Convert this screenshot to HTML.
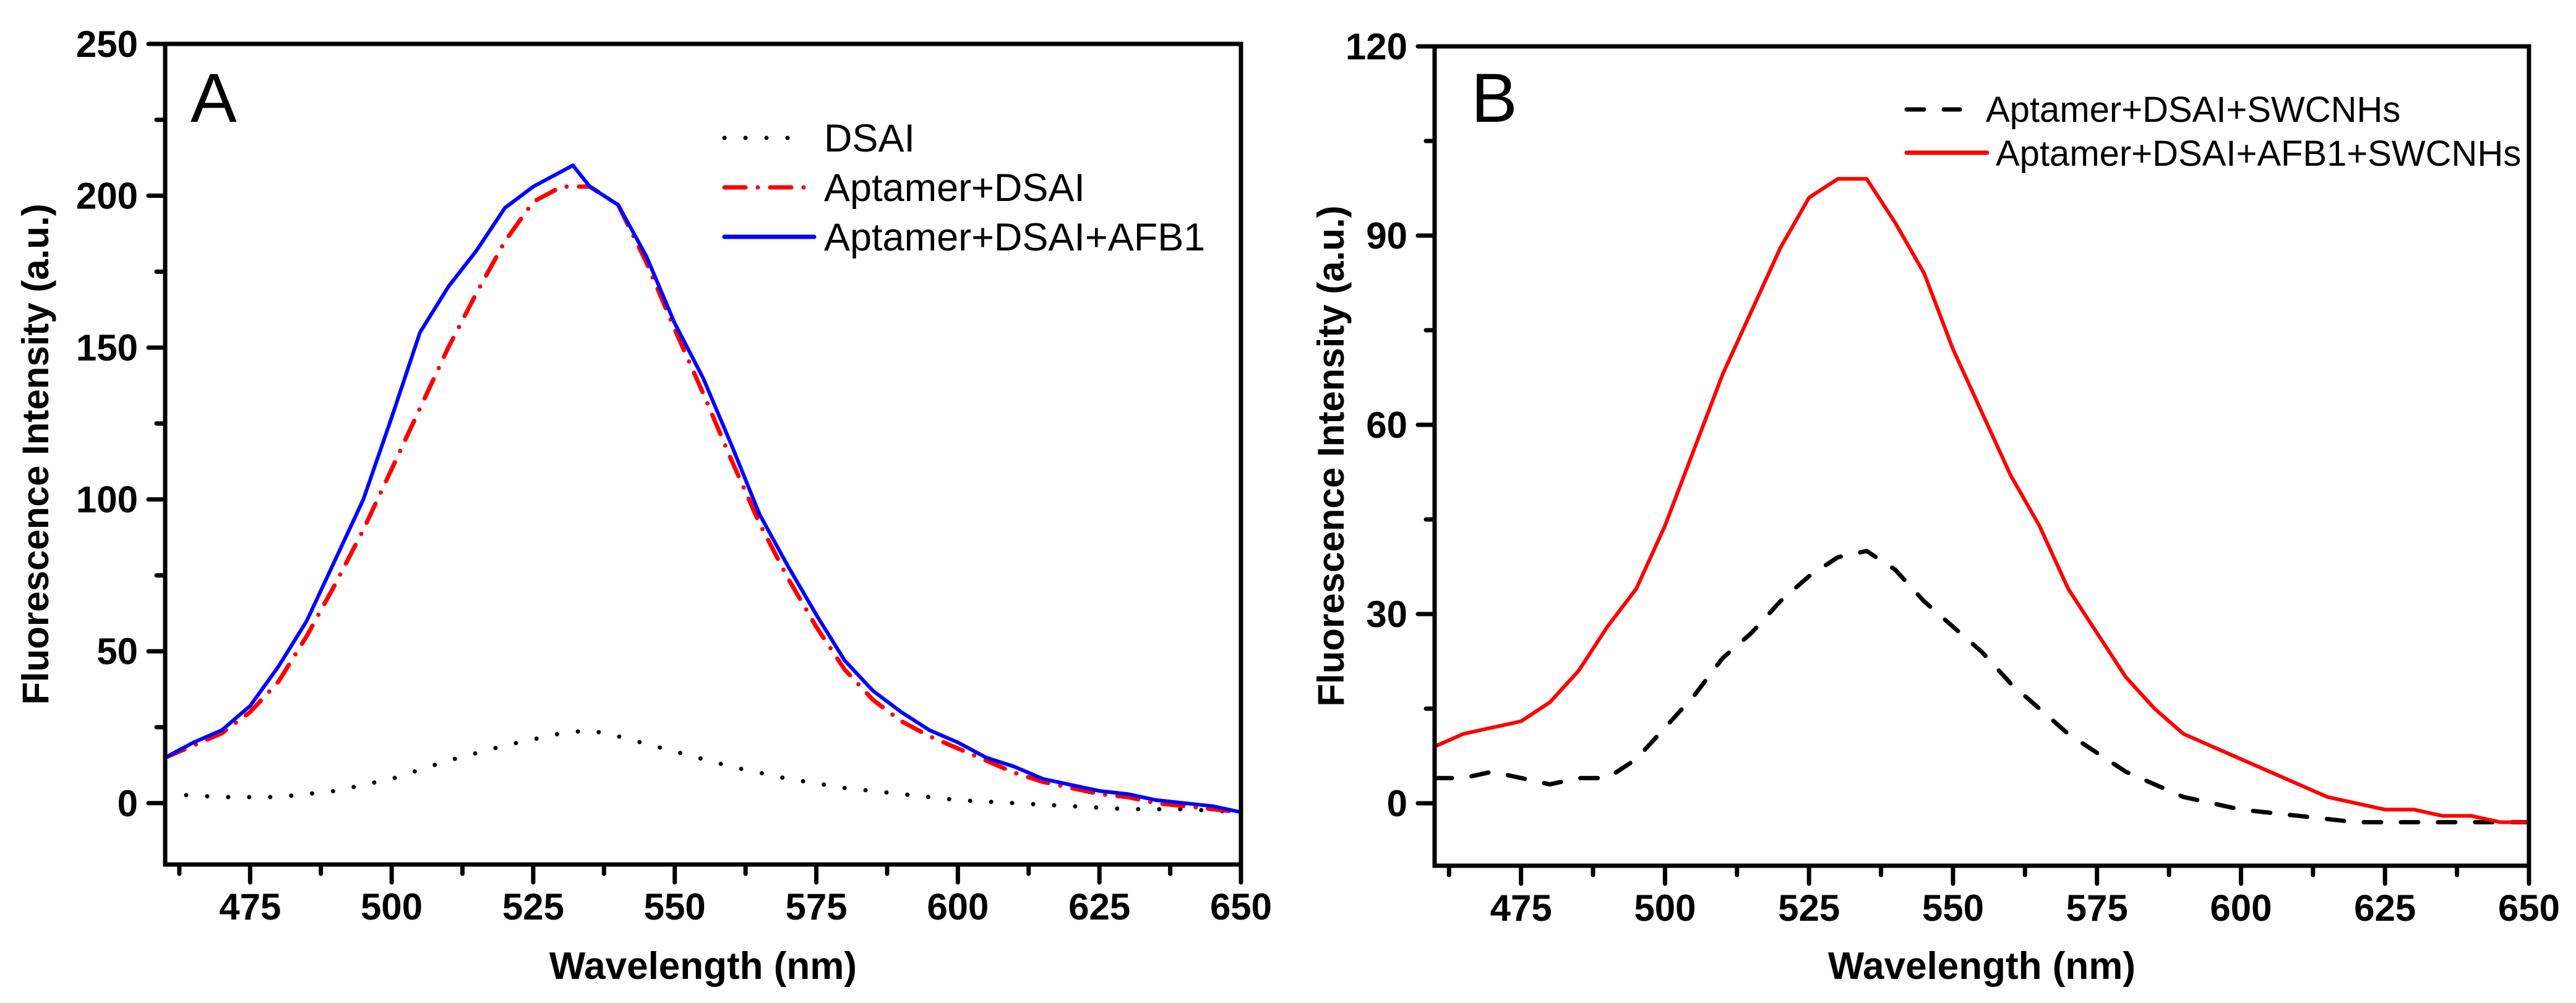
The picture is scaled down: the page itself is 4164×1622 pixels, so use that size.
<!DOCTYPE html>
<html><head><meta charset="utf-8"><style>
html,body{margin:0;padding:0;background:#fff;}
svg{display:block;}
text{font-family:"Liberation Sans",Arial,sans-serif;}
</style></head><body>
<svg id="fig" width="4164" height="1622" viewBox="0 0 4164 1622" xmlns="http://www.w3.org/2000/svg"></svg>
<script>
// Panel A data
const aWl = [460,465,470,475,480,485,490,495,500,505,510,515,520,525,530,532,535,540,545,550,555,560,565,570,575,580,585,590,595,600,605,610,615,620,625,630,635,640,645,650];
const aBlue = [15,20,24,32,45,60,80,100,127,155,170,182,196,203,208,210,203,197,180,158,140,118,95,78,62,47,37,30,24,20,15,12,8,6,4,3,1,0,-1,-3];
const aRed = [15,19,23,30,40,55,72,90,110,130,150,168,185,198,203,203,203,197,178,156,135,113,92,74,58,44,34,27,22,18,14,10,7,5,3,2,0,-1,-2,-3];
const aDotWl = [460,470,480,490,500,510,520,530,535,540,550,560,570,580,590,600,610,620,630,640,650];
const aDot = [3,2,2,4,8,14,19,23,24,22,17,12,8,5,3,1,0,-1,-2,-2,-3];
// Panel B data
const bWl = [460,465,470,475,480,485,490,495,500,505,510,515,520,525,530,535,540,545,550,555,560,565,570,575,580,585,590,595,600,605,610,615,620,625,630,635,640,645,650];
const bRed = [9,11,12,13,16,21,28,34,44,56,68,78,88,96,99,99,92,84,72,62,52,44,34,27,20,15,11,9,7,5,3,1,0,-1,-1,-2,-2,-3,-3];
const bDashWl = [460,465,470,475,480,485,490,495,500,505,510,515,520,525,530,535,540,545,550,555,560,565,570,575,580,585,590,600,610,620,630,650];
const bDash = [4,4,5,4,3,4,4,7,12,17,23,27,32,36,39,40,37,32,28,24,19,15,11,8,5,3,1,-1,-2,-3,-3,-3];
const xTicks = [475,500,525,550,575,600,625,650];
const aYTicks = [0,50,100,150,200,250];
const bYTicks = [0,30,60,90,120];

const NS="http://www.w3.org/2000/svg";
const svg=document.getElementById('fig');
function el(tag,attrs,parent,txt){const e=document.createElementNS(NS,tag);for(const k in attrs)e.setAttribute(k,attrs[k]);if(txt!==undefined)e.textContent=txt;(parent||svg).appendChild(e);return e;}

function panel(cfg){
  const g=el('g',{});
  
  
  const X=w=>cfg.x0+(w-460)/(650-460)*(cfg.x1-cfg.x0);
  const Y=v=>cfg.yb-(v-cfg.ymin)/(cfg.ymax-cfg.ymin)*(cfg.yb-cfg.yt);
  // series
  cfg.series.forEach(s=>{
    const d=s.wl.map((w,i)=>(i?'L':'M')+X(w).toFixed(1)+' '+Y(s.v[i]).toFixed(1)).join(' ');
    const p=el('path',{d:d,fill:'none',stroke:s.color,'stroke-width':s.w,'stroke-linecap':'round','stroke-linejoin':'round'},g);
    if(s.dash)p.setAttribute('stroke-dasharray',s.dash);
    
    
  });
  // axes frame
  const fr=el('rect',{x:cfg.x0,y:cfg.yt,width:cfg.x1-cfg.x0,height:cfg.yb-cfg.yt,fill:'none',stroke:'#000','stroke-width':7},g);
  
  
  // x ticks
  for(let w=462.5;w<=650.01;w+=12.5){
    const major=xTicks.includes(w);
    const t=el('line',{x1:X(w),x2:X(w),y1:cfg.yb,y2:cfg.yb+(major?29:15),stroke:'#000','stroke-width':7,'stroke-linecap':'round'},g);
    
    
  }
  xTicks.forEach(w=>{
    const t=el('text',{x:X(w),y:cfg.yb+89,'font-size':60,'font-weight':'bold','text-anchor':'middle'},g,String(w));
    
    
  });
  // y ticks
  const step=cfg.yTicks[1]-cfg.yTicks[0];
  for(let v=cfg.yTicks[0];v<=cfg.ymax+0.01;v+=step/2){
    const major=cfg.yTicks.includes(v);
    const t=el('line',{x1:cfg.x0,x2:cfg.x0-(major?27:14),y1:Y(v),y2:Y(v),stroke:'#000','stroke-width':7,'stroke-linecap':'round'},g);
    
    
  }
  cfg.yTicks.forEach(v=>{
    const t=el('text',{x:cfg.x0-44,y:Y(v)+21,'font-size':60,'font-weight':'bold','text-anchor':'end'},g,String(v));
    
    
  });
  // titles
  const xt=el('text',{x:(cfg.x0+cfg.x1)/2,y:1583,'font-size':62,'font-weight':'bold','text-anchor':'middle'},g,'Wavelength (nm)');
  
  
  const cy=(cfg.yt+cfg.yb)/2;
  const yt=el('text',{x:cfg.ytx,y:cy,'font-size':60,'font-weight':'bold','text-anchor':'middle',transform:`rotate(-90 ${cfg.ytx} ${cy})`},g,'Fluorescence Intensity (a.u.)');
  
  
  const lt=el('text',{x:cfg.lx,y:197,'font-size':112},g,cfg.letter);
  
  
  // legend
  cfg.legend.forEach(L=>{
    const lg=el('g',{},g);
    
    
    const ln=el('line',{x1:L.x1,x2:L.x2,y1:L.y,y2:L.y,stroke:L.color,'stroke-width':7,'stroke-linecap':'round'},lg);
    if(L.dash)ln.setAttribute('stroke-dasharray',L.dash);
    el('text',{x:L.tx,y:L.ty,'font-size':L.fs},lg,L.label);
  });
}

panel({name:'panel-a',x0:267,x1:2006,yt:71,yb:1398,ymin:-20.2,ymax:250,yTicks:aYTicks,ytx:78,lx:308,letter:'A',
  series:[
    {name:'dsai-series',wl:aDotWl,v:aDot,color:'#000',w:7,dash:'0 34'},
    {name:'aptamer-dsai-series',wl:aWl,v:aRed,color:'#f00',w:7,dash:'34 20 0 20'},
    {name:'aptamer-dsai-afb1-series',wl:aWl,v:aBlue,color:'#00f',w:6}
  ],
  legend:[
    {x1:1171,x2:1280,y:223,color:'#000',dash:'0 34',tx:1332,ty:245,fs:63,label:'DSAI'},
    {x1:1171,x2:1300,y:303,color:'#f00',dash:'34 20 0 20',tx:1332,ty:325,fs:63,label:'Aptamer+DSAI'},
    {x1:1171,x2:1316,y:383,color:'#00f',tx:1332,ty:405,fs:63,label:'Aptamer+DSAI+AFB1'}
  ]});

panel({name:'panel-b',x0:2319,x1:4088,yt:75,yb:1400,ymin:-9.9,ymax:120,yTicks:bYTicks,ytx:2172,lx:2378,letter:'B',
  series:[
    {name:'aptamer-dsai-swcnhs-series',wl:bDashWl,v:bDash,color:'#000',w:7,dash:'28 32'},
    {name:'aptamer-dsai-afb1-swcnhs-series',wl:bWl,v:bRed,color:'#f00',w:6}
  ],
  legend:[
    {x1:3082,x2:3168,y:177,color:'#000',dash:'28 32',tx:3210,ty:197,fs:58,label:'Aptamer+DSAI+SWCNHs'},
    {x1:3082,x2:3212,y:247,color:'#f00',tx:3226,ty:268,fs:58,label:'Aptamer+DSAI+AFB1+SWCNHs'}
  ]});
</script>
</body></html>
